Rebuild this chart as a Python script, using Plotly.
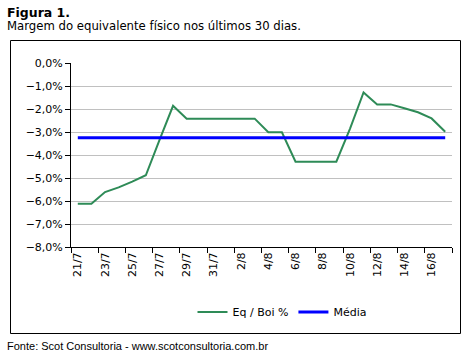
import plotly.graph_objects as go

dates = ["21/7", "22/7", "23/7", "24/7", "25/7", "26/7", "27/7", "28/7", "29/7", "30/7",
         "31/7", "1/8", "2/8", "3/8", "4/8", "5/8", "6/8", "7/8", "8/8", "9/8",
         "10/8", "11/8", "12/8", "13/8", "14/8", "15/8", "16/8", "17/8"]
eq_boi = [-6.12, -6.12, -5.61, -5.41, -5.16, -4.88, -3.35, -1.86, -2.42, -2.42,
          -2.42, -2.42, -2.42, -2.42, -3.01, -3.01, -4.29, -4.29, -4.29, -4.29,
          -2.86, -1.28, -1.80, -1.80, -1.97, -2.14, -2.41, -2.99]
media = [-3.25] * len(dates)

FONT = "DejaVu Sans"
W, H = 470, 358
L, R, T, B = 71, 452, 63, 247

fig = go.Figure()
fig.add_trace(go.Scatter(x=dates, y=eq_boi, mode="lines", name="Eq / Boi %",
                         line=dict(color="#2E8B57", width=2)))
fig.add_trace(go.Scatter(x=dates, y=media, mode="lines", name="Média",
                         line=dict(color="#0000FF", width=3)))

def px_x(p):
    return (p - L) / (R - L)

def px_y(p):
    return (B - p) / (B - T)

fig.update_layout(
    width=W, height=H,
    margin=dict(l=L, r=W - R, t=T, b=H - B, pad=0, autoexpand=False),
    paper_bgcolor="white", plot_bgcolor="white",
    separators=",.",
    font=dict(family=FONT, size=11, color="black"),
    showlegend=True,
    legend=dict(orientation="h", x=px_x(282), xanchor="center", y=px_y(312), yanchor="middle",
                font=dict(family=FONT, size=11, color="black"),
                itemwidth=30, bgcolor="rgba(0,0,0,0)"),
    xaxis=dict(type="category", tickmode="linear", dtick=2, tick0=0,
               tickson="boundaries", ticks="outside", ticklen=5, tickcolor="black",
               tickangle=-90, showline=True, linecolor="black", linewidth=1,
               showgrid=False, zeroline=False, range=[-0.5, 27.5], automargin=False,
               tickfont=dict(family=FONT, size=11, color="black")),
    yaxis=dict(range=[-8, 0], dtick=1, tickformat=".1f", ticksuffix="%",
               ticks="outside", ticklen=5, tickcolor="black", automargin=False,
               showline=True, linecolor="black", linewidth=1,
               showgrid=True, gridcolor="#C0C0C0", gridwidth=1, zeroline=False,
               tickfont=dict(family=FONT, size=11, color="black")),
    shapes=[dict(type="rect", xref="paper", yref="paper",
                 x0=px_x(10.5), x1=px_x(460.5), y0=px_y(333.5), y1=px_y(40.5),
                 line=dict(color="black", width=1), fillcolor="rgba(0,0,0,0)", layer="below")],
    annotations=[
        dict(text="<b>Figura 1.</b>", xref="paper", yref="paper", x=px_x(5), y=px_y(12),
             xanchor="left", yanchor="middle", showarrow=False,
             font=dict(family=FONT, size=12.5, color="black")),
        dict(text="Margem do equivalente físico nos últimos 30 dias.", xref="paper", yref="paper",
             x=px_x(5), y=px_y(26), xanchor="left", yanchor="middle", showarrow=False,
             font=dict(family=FONT, size=11.7, color="black")),
        dict(text="Fonte: Scot Consultoria - www.scotconsultoria.com.br", xref="paper", yref="paper",
             x=px_x(5), y=px_y(346), xanchor="left", yanchor="middle", showarrow=False,
             font=dict(family="Liberation Sans", size=11, color="black")),
    ],
)

fig.write_html("out.html", config={"displayModeBar": False},
               post_script="document.body.style.margin='0';document.body.style.padding='0';document.body.style.overflow='hidden';")
